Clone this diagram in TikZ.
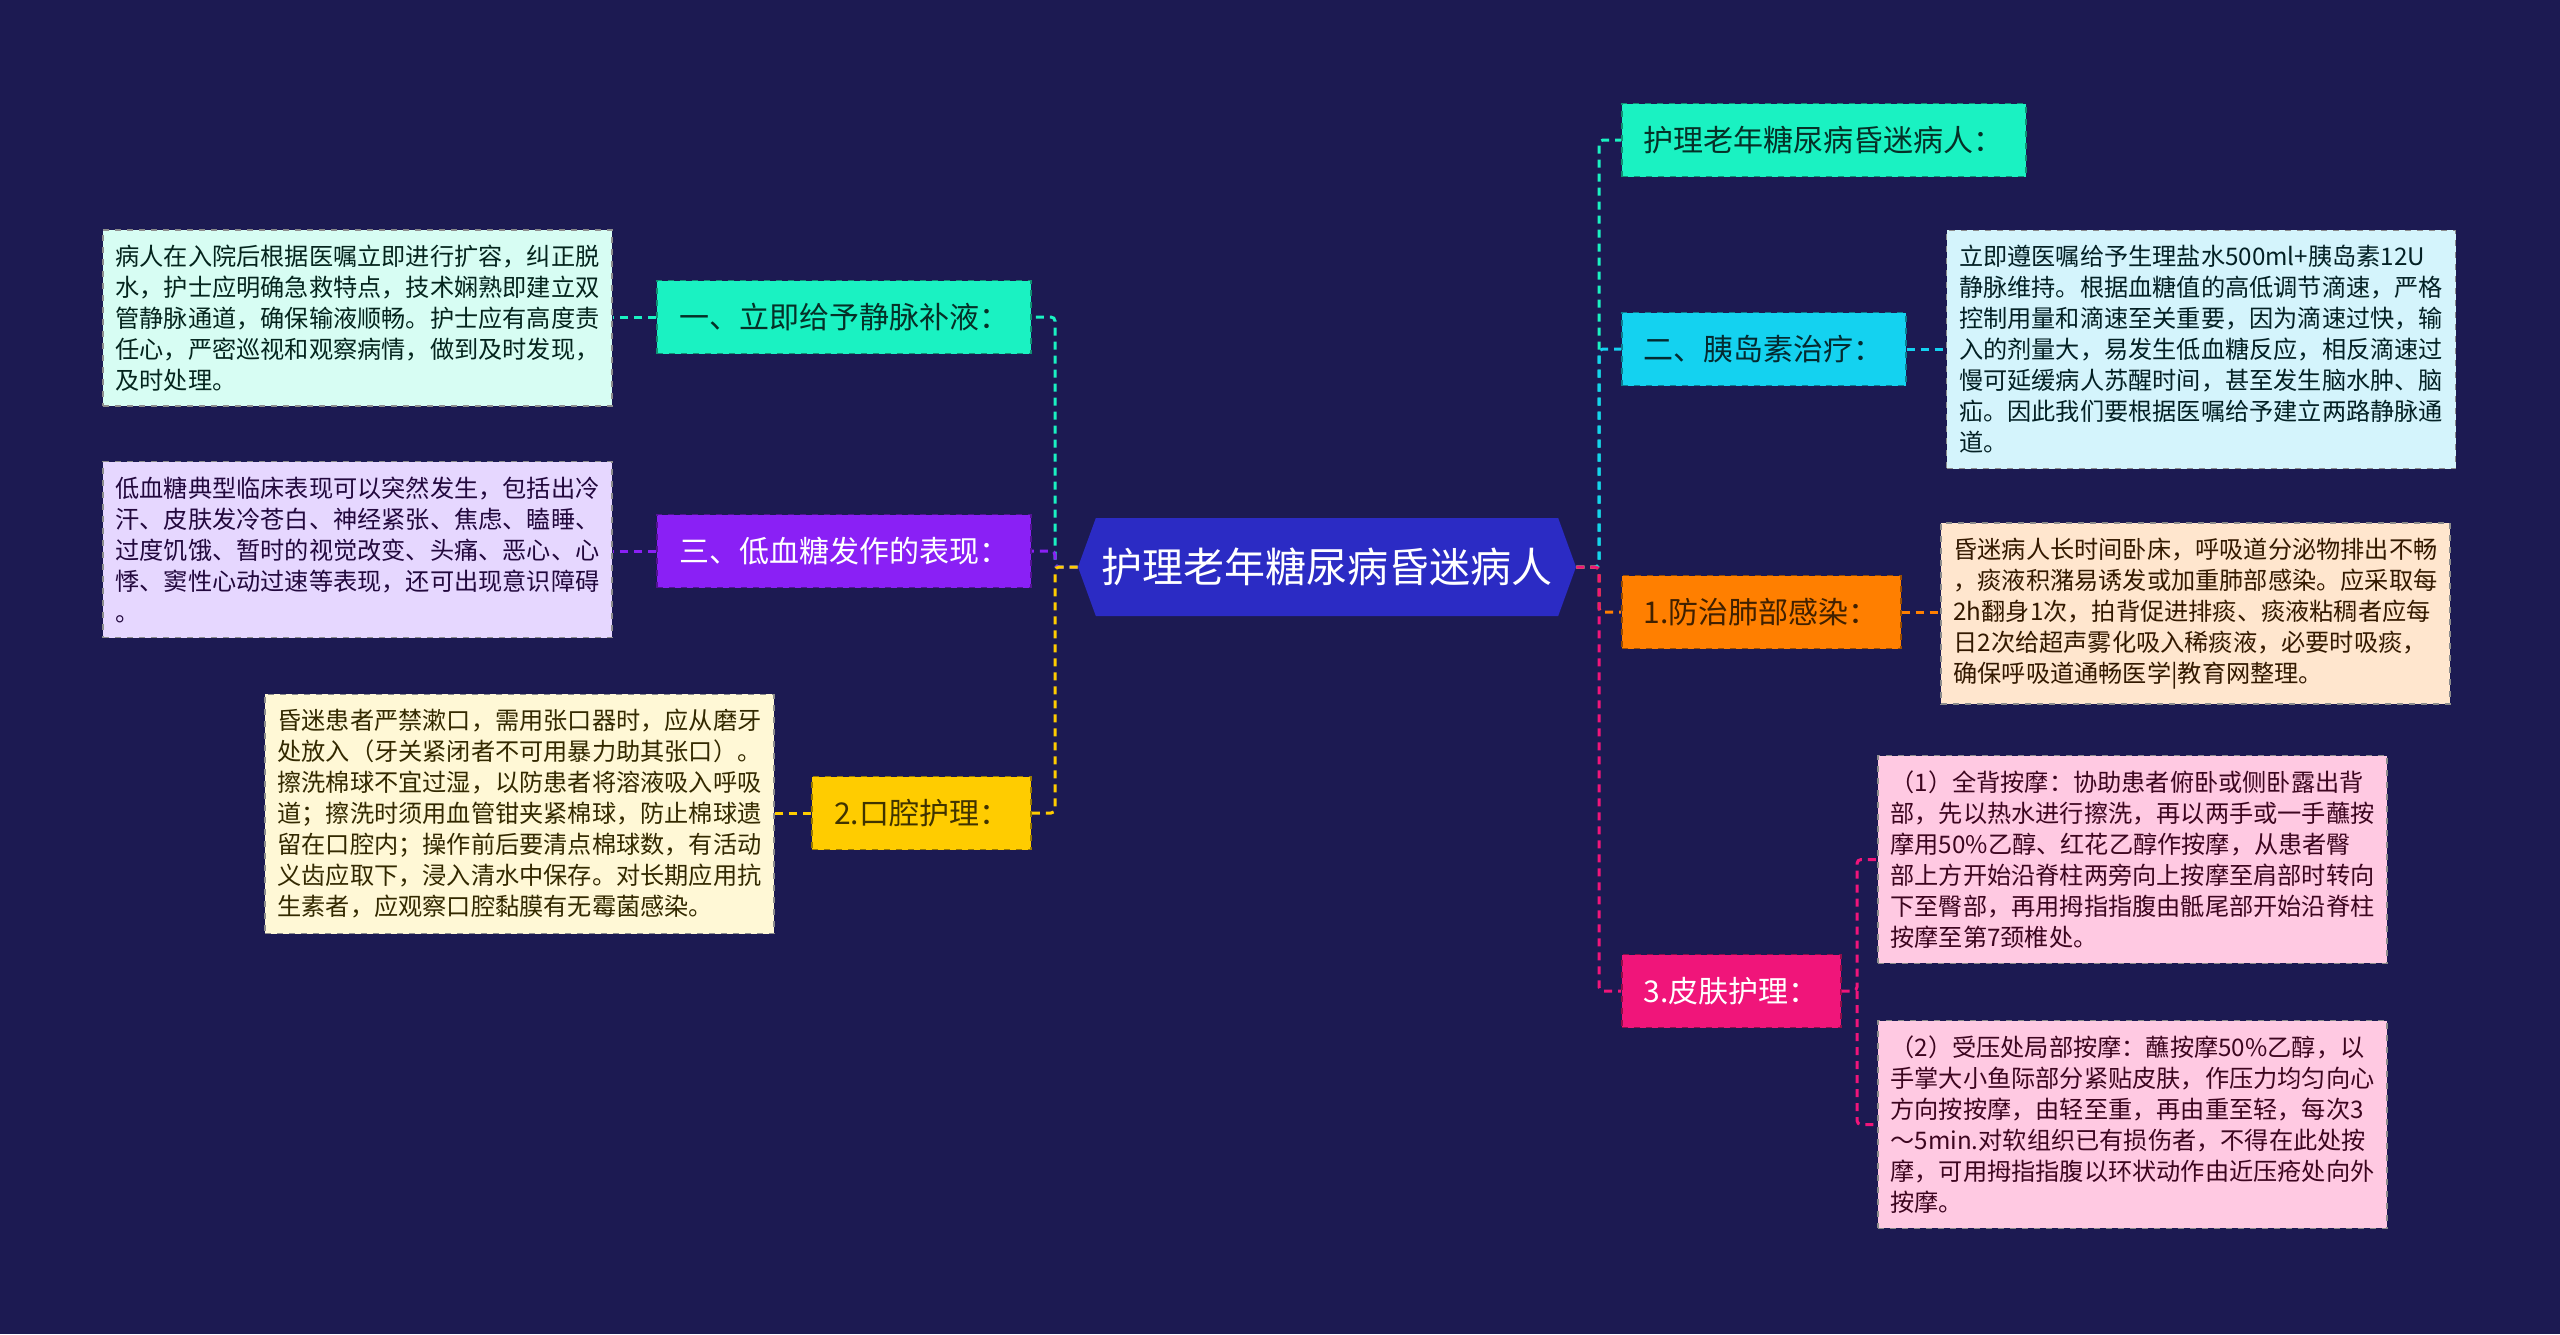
\documentclass[tikz,border=0pt]{standalone}
\usepackage{fontspec}
\setmainfont{Noto Sans CJK SC}
\usepackage{tikz}
\usetikzlibrary{shapes.symbols}

\definecolor{bgnavy}{HTML}{1C1A52}
\definecolor{hubblue}{HTML}{2B2BC4}
\definecolor{cteal}{HTML}{1AF2C2}
\definecolor{ctealL}{HTML}{D7FDF3}
\definecolor{cpurple}{HTML}{8A20F5}
\definecolor{cpurpleL}{HTML}{E6D7FF}
\definecolor{cyellow}{HTML}{FFCC00}
\definecolor{cyellowL}{HTML}{FFF8D6}
\definecolor{ccyan}{HTML}{14D2F0}
\definecolor{ccyanL}{HTML}{D4F4FC}
\definecolor{corange}{HTML}{FF7F00}
\definecolor{corangeL}{HTML}{FFE6CE}
\definecolor{cpink}{HTML}{F0157A}
\definecolor{cpinkL}{HTML}{FFC9E2}

\begin{document}
\begin{tikzpicture}[x=0.5pt,y=-0.5pt,
hub/.style={signal,signal to=east and west,signal pointer angle=140,
  fill=hubblue,text=white,inner sep=0pt,
  minimum width=249pt,minimum height=49pt,
  font=\fontsize{20.5pt}{24pt}\selectfont},
branch/.style={draw=#1!60!black,dashed,line width=0.8pt,fill=#1,
  minimum height=36.5pt,inner xsep=11pt,inner ysep=0pt,
  font=\fontsize{15pt}{18pt}\selectfont},
note/.style={draw=black!45,dashed,line width=0.8pt,fill=#1,
  text width=242pt,align=left,inner xsep=6.25pt,inner ysep=7.5pt,
  text=black!80,font=\fontsize{12.1pt}{15.5pt}\selectfont},
link/.style={draw=#1,line width=1.5pt,dash pattern=on 4pt off 3pt,rounded corners=2pt}]
% background
\fill[bgnavy] (0,0) rectangle (2560,1334);

% centre
\node[hub] (hub) at (1327,567) {护理老年糖尿病昏迷病人};
\coordinate (ls) at (1055,567);
\coordinate (rs) at (1599,567);

% left side
\node[branch=cteal,anchor=east,text=cteal!20!black] (b1) at (1032,317) {一、立即给予静脉补液：};
\node[branch=cpurple,anchor=east,text=white] (b2) at (1032,551) {三、低血糖发作的表现：};
\node[branch=cyellow,anchor=east,text=cyellow!25!black] (b3) at (1032,813) {2.口腔护理：};

\node[note=ctealL,text=cteal!15!black] (t1) at (357.5,318) {病人在入院后根据医嘱立即进行扩容，纠正脱\\
水，护士应明确急救特点，技术娴熟即建立双\\
管静脉通道，确保输液顺畅。护士应有高度责\\
任心，严密巡视和观察病情，做到及时发现，\\
及时处理。};
\node[note=cpurpleL,text=cpurple!25!black] (t2) at (357.5,549.5) {低血糖典型临床表现可以突然发生，包括出冷\\
汗、皮肤发冷苍白、神经紧张、焦虑、瞌睡、\\
过度饥饿、暂时的视觉改变、头痛、恶心、心\\
悸、窦性心动过速等表现，还可出现意识障碍\\
。};
\node[note=cyellowL,text=cyellow!20!black] (t3) at (519.5,814) {昏迷患者严禁漱口，需用张口器时，应从磨牙\\
处放入（牙关紧闭者不可用暴力助其张口）。\\
擦洗棉球不宜过湿，以防患者将溶液吸入呼吸\\
道；擦洗时须用血管钳夹紧棉球，防止棉球遗\\
留在口腔内；操作前后要清点棉球数，有活动\\
义齿应取下，浸入清水中保存。对长期应用抗\\
生素者，应观察口腔黏膜有无霉菌感染。};

% right side
\node[branch=cteal,anchor=west,text=cteal!20!black] (r1) at (1621,140) {护理老年糖尿病昏迷病人：};
\node[branch=ccyan,anchor=west,text=ccyan!20!black] (r2) at (1621,349) {二、胰岛素治疗：};
\node[branch=corange,anchor=west,text=corange!25!black] (r3) at (1621,612) {1.防治肺部感染：};
\node[branch=cpink,anchor=west,text=white] (r4) at (1621,991) {3.皮肤护理：};

\node[note=ccyanL,text=ccyan!15!black] (n2) at (2201,349.5) {立即遵医嘱给予生理盐水500ml+胰岛素12U\\
静脉维持。根据血糖值的高低调节滴速，严格\\
控制用量和滴速至关重要，因为滴速过快，输\\
入的剂量大，易发生低血糖反应，相反滴速过\\
慢可延缓病人苏醒时间，甚至发生脑水肿、脑\\
疝。因此我们要根据医嘱给予建立两路静脉通\\
道。};
\node[note=corangeL,text=corange!20!black] (n3) at (2195.5,613.5) {昏迷病人长时间卧床，呼吸道分泌物排出不畅\\
，痰液积潴易诱发或加重肺部感染。应采取每\\
2h翻身1次，拍背促进排痰、痰液粘稠者应每\\
日2次给超声雾化吸入稀痰液，必要时吸痰，\\
确保呼吸道通畅医学|教育网整理。};
\node[note=cpinkL,text=cpink!25!black] (p1) at (2132.5,859.5) {（1）全背按摩：协助患者俯卧或侧卧露出背\\
部，先以热水进行擦洗，再以两手或一手蘸按\\
摩用50\%乙醇、红花乙醇作按摩，从患者臀\\
部上方开始沿脊柱两旁向上按摩至肩部时转向\\
下至臀部，再用拇指指腹由骶尾部开始沿脊柱\\
按摩至第7颈椎处。};
\node[note=cpinkL,text=cpink!25!black] (p2) at (2132.5,1124.5) {（2）受压处局部按摩：蘸按摩50\%乙醇，以\\
手掌大小鱼际部分紧贴皮肤，作压力均匀向心\\
方向按按摩，由轻至重，再由重至轻，每次3\\
～5min.对软组织已有损伤者，不得在此处按\\
摩，可用拇指指腹以环状动作由近压疮处向外\\
按摩。};
\coordinate (pf) at (1857,991);

% connectors
\draw[link=cteal] (hub.west) -- (ls) |- (b1.east);
\draw[link=cpurple] (hub.west) -- (ls) |- (b2.east);
\draw[link=cyellow] (hub.west) -- (ls) |- (b3.east);
\draw[link=cteal] (b1.west) -- (b1.west -| t1.east);
\draw[link=cpurple] (b2.west) -- (b2.west -| t2.east);
\draw[link=cyellow] (b3.west) -- (b3.west -| t3.east);

\draw[link=cteal] (hub.east) -- (rs) |- (r1.west);
\draw[link=ccyan] (hub.east) -- (rs) |- (r2.west);
\draw[link=corange] (hub.east) -- (rs) |- (r3.west);
\draw[link=cpink] (hub.east) -- (rs) |- (r4.west);
\draw[link=ccyan] (r2.east) -- (r2.east -| n2.west);
\draw[link=corange] (r3.east) -- (r3.east -| n3.west);
\draw[link=cpink] (r4.east) -- (pf) |- (p1.west);
\draw[link=cpink] (pf) |- (p2.west);
\end{tikzpicture}
\end{document}
